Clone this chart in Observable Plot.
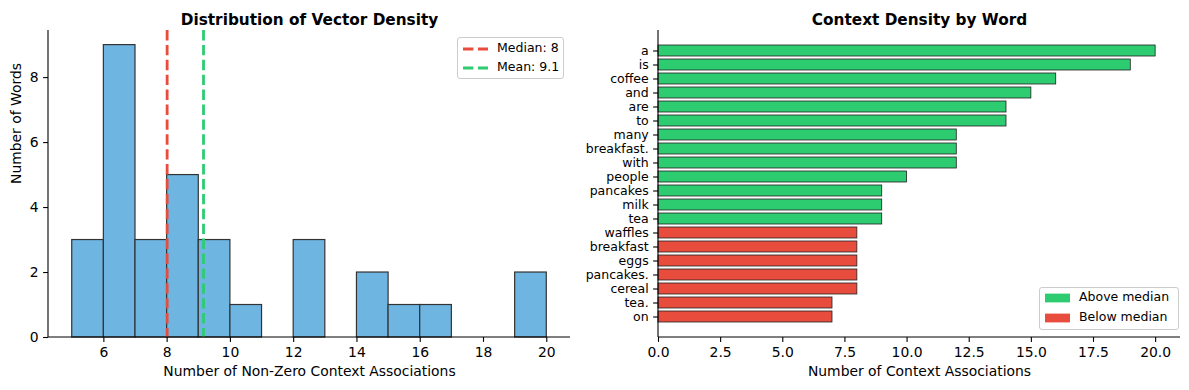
<!DOCTYPE html>
<html><head><meta charset="utf-8">
<script src="https://cdn.jsdelivr.net/npm/d3@7"></script>
<script src="https://cdn.jsdelivr.net/npm/@observablehq/plot@0.6"></script>
<style>
body{margin:0;background:#fff;font-family:"DejaVu Sans",sans-serif;}
#fig{position:relative;width:1189px;height:390px;overflow:hidden;background:#fff;}
#left{position:absolute;left:0;top:0;}
#right{position:absolute;left:575px;top:0;}
.legend{position:absolute;background:rgba(255,255,255,0.8);border:1px solid #cccccc;border-radius:3px;box-sizing:border-box;font-size:12.5px;color:#000;}
.legend .item{position:absolute;white-space:nowrap;line-height:1;}
.legend svg{position:absolute;}
</style>
</head><body>
<div id="fig"><div id="left"></div><div id="right"></div></div>
<script>
// ---- Data: histogram of non-zero context associations per word ----
const binStarts = [5, 6, 7, 8, 9, 10, 11, 12, 13, 14, 15, 16, 17, 18, 19];
const binCounts = [3, 9, 3, 5, 3, 1, 0, 3, 0, 2, 1, 1, 0, 0, 2];
const binWidth = 1;
const medianValue = 8;
const meanValue = 9.15;
const refLabels = ["Median: 8", "Mean: 9.1"];
const histTicksX = [6, 8, 10, 12, 14, 16, 18, 20];
const histTicksY = [0, 2, 4, 6, 8];

// ---- Data: context density by word ----
const words = ["a", "is", "coffee", "and", "are", "to", "many", "breakfast.", "with", "people",
  "pancakes", "milk", "tea", "waffles", "breakfast", "eggs", "pancakes.", "cereal", "tea.", "on"];
const counts = [20, 19, 16, 15, 14, 14, 12, 12, 12, 10, 9, 9, 9, 8, 8, 8, 8, 8, 7, 7];
const barTicksX = [0, 2.5, 5, 7.5, 10, 12.5, 15, 17.5, 20];
const groupLabels = ["Above median", "Below median"];

const titles = ["Distribution of Vector Density", "Context Density by Word"];
const xLabels = ["Number of Non-Zero Context Associations", "Number of Context Associations"];
const yLabel = "Number of Words";

const RED = "#e74c3c", GREEN = "#2ecc71";

// spines (left + bottom) drawn from the frame dimensions
function spines(index, scales, values, dim) {
  const g = d3.create("svg:g");
  const l = dim.marginLeft, t = dim.marginTop, b = dim.height - dim.marginBottom, r = dim.width - dim.marginRight;
  g.append("line").attr("x1", l).attr("x2", l).attr("y1", t).attr("y2", b).attr("stroke", "black").attr("stroke-width", 1.1);
  g.append("line").attr("x1", l).attr("x2", r).attr("y1", b).attr("y2", b).attr("stroke", "black").attr("stroke-width", 1.1);
  return g.node();
}

const bins = binStarts.map((s, i) => ({x1: s, x2: s + binWidth, count: binCounts[i]})).filter(d => d.count > 0);
const xMin = binStarts[0], xMax = binStarts[binStarts.length - 1] + binWidth;
const xPad = (xMax - xMin) * 0.05;

const left = Plot.plot({
  width: 575, height: 390,
  marginLeft: 48, marginRight: 5, marginTop: 30, marginBottom: 53,
  style: {fontFamily: "DejaVu Sans", fontSize: "13.9px", background: "white", color: "black"},
  x: {domain: [xMin - xPad, xMax + xPad]},
  y: {domain: [0, d3.max(binCounts) * 1.05]},
  marks: [
    Plot.rectY(bins, {x1: "x1", x2: "x2", y: "count", fill: "#6fb5e2", stroke: "#333333", strokeWidth: 1.2}),
    Plot.ruleX([medianValue], {stroke: RED, strokeWidth: 2.8, strokeDasharray: "10.4,4.5"}),
    Plot.ruleX([meanValue], {stroke: GREEN, strokeWidth: 2.8, strokeDasharray: "10.4,4.5"}),
    spines,
    Plot.axisX({ticks: histTicksX, tickSize: 4.9, tickPadding: 4.9, label: null, strokeWidth: 1.1}),
    Plot.axisY({ticks: histTicksY, tickSize: 4.9, tickPadding: 4.9, label: null, strokeWidth: 1.1}),
    Plot.text([titles[0]], {text: d => d, frameAnchor: "top", dy: -16, fontWeight: "bold", fontSize: 15.3}),
    Plot.text([xLabels[0]], {text: d => d, frameAnchor: "bottom", dy: 38}),
    Plot.text([yLabel], {text: d => d, frameAnchor: "left", rotate: -90, dx: -32})
  ]
});
document.getElementById("left").append(left);

const barData = words.map((w, i) => ({word: w, value: counts[i], group: counts[i] > medianValue ? groupLabels[0] : groupLabels[1]}));

const right = Plot.plot({
  width: 614, height: 390,
  marginLeft: 83, marginRight: 9, marginTop: 30, marginBottom: 53,
  style: {fontFamily: "DejaVu Sans", fontSize: "13.9px", background: "white", color: "black"},
  x: {domain: [0, d3.max(counts) * 1.05]},
  y: {domain: words, paddingInner: 0.2, paddingOuter: 0.985},
  color: {domain: groupLabels, range: [GREEN, RED]},
  marks: [
    Plot.barX(barData, {x: "value", y: "word", fill: "group", stroke: "#222222", strokeWidth: 0.8}),
    spines,
    Plot.axisX({ticks: barTicksX, tickFormat: d3.format(".1f"), tickSize: 4.9, tickPadding: 4.9, label: null, strokeWidth: 1.1}),
    Plot.axisY({tickSize: 4.9, tickPadding: 4.9, label: null, fontSize: 12.5, strokeWidth: 1.1}),
    Plot.text([titles[1]], {text: d => d, frameAnchor: "top", dy: -16, fontWeight: "bold", fontSize: 15.3}),
    Plot.text([xLabels[1]], {text: d => d, frameAnchor: "bottom", dy: 38})
  ]
});
document.getElementById("right").append(right);

// ---- Legends ----
const fig = document.getElementById("fig");
function legend(box, items) {
  const el = document.createElement("div");
  el.className = "legend";
  Object.assign(el.style, {left: box.left + "px", top: box.top + "px", width: box.width + "px", height: box.height + "px"});
  items.forEach((it, i) => {
    const cy = box.row0 + i * box.rowGap;
    const s = d3.create("svg").attr("width", 26).attr("height", 12)
      .style("left", "5px").style("top", (cy - 6) + "px");
    if (it.kind === "line") {
      s.append("line").attr("x1", 0).attr("x2", 25).attr("y1", 6).attr("y2", 6)
        .attr("stroke", it.color).attr("stroke-width", 2.8).attr("stroke-dasharray", "10.4,4.5");
    } else {
      s.append("rect").attr("x", 0).attr("y", 1.6).attr("width", 25).attr("height", 8.8).attr("fill", it.color);
    }
    el.append(s.node());
    const t = document.createElement("div");
    t.className = "item";
    t.textContent = it.label;
    Object.assign(t.style, {left: "39px", top: (cy - 7) + "px"});
    el.append(t);
  });
  fig.append(el);
}
legend({left: 457, top: 37, width: 107, height: 42, row0: 10.5, rowGap: 19},
  [{kind: "line", color: RED, label: refLabels[0]}, {kind: "line", color: GREEN, label: refLabels[1]}]);
legend({left: 1039, top: 287, width: 140, height: 43, row0: 10, rowGap: 20},
  [{kind: "rect", color: GREEN, label: groupLabels[0]}, {kind: "rect", color: RED, label: groupLabels[1]}]);
</script>
</body></html>
